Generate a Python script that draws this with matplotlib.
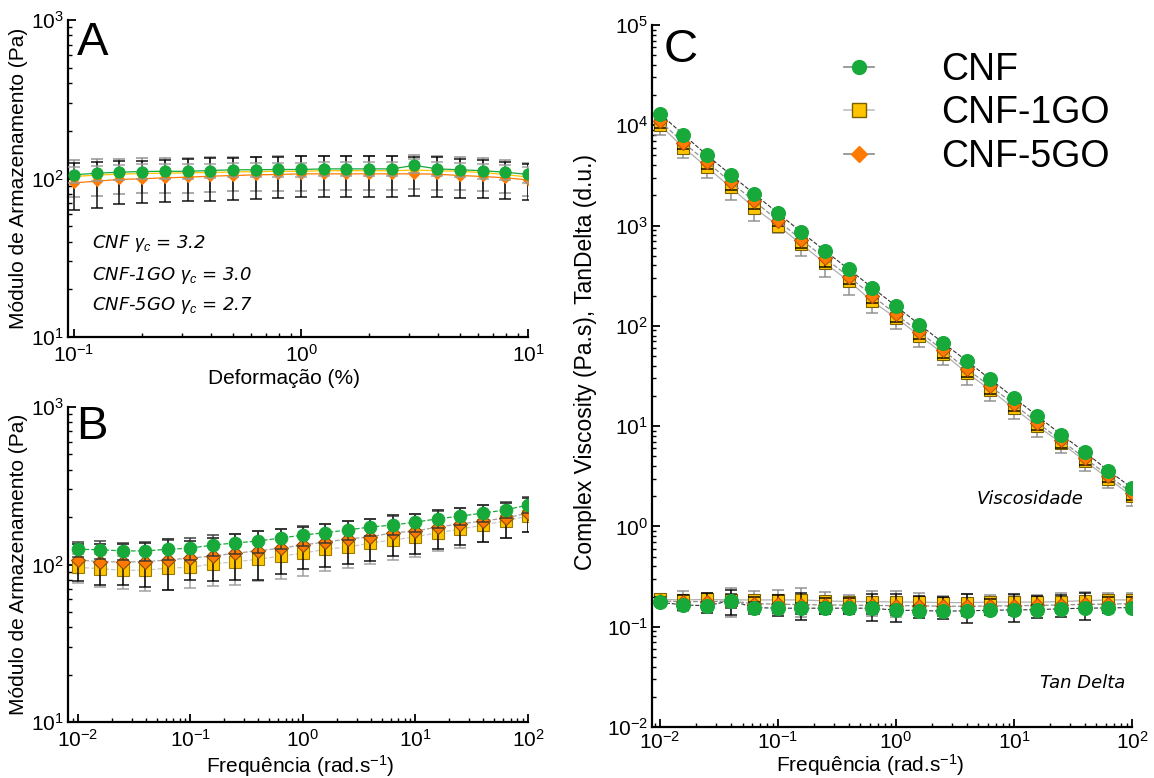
import numpy as np
import matplotlib
matplotlib.use('Agg')
import matplotlib.pyplot as plt
from matplotlib.lines import Line2D

plt.rcParams['font.family'] = ['Liberation Sans', 'DejaVu Sans']
plt.rcParams['mathtext.fontset'] = 'custom'
plt.rcParams['mathtext.rm'] = 'Liberation Sans'
plt.rcParams['mathtext.it'] = 'Liberation Sans:italic'

# colours
c_cnf = '#17a93a'
c_1go = '#ffc400'
c_5go = '#ff7a00'

# A - strain sweep
strain = [0.1, 0.126, 0.158, 0.2, 0.251, 0.316, 0.398, 0.501, 0.631, 0.794, 1.0,
          1.26, 1.58, 2.0, 2.51, 3.16, 3.98, 5.01, 6.31, 7.94, 10.0]
gA_cnf = [105.5, 108, 109.6, 110.7, 111, 111, 112.3, 113.5, 113.5, 114, 114,
          115, 115, 115, 115, 121, 115, 113.5, 112, 109.6, 106]
gA_1go = [103, 105, 106.5, 107.5, 108, 108.5, 109, 110, 110.5, 111, 111,
          112, 112, 112, 112, 113, 112, 111, 109, 106, 102]
gA_5go = [93.9, 96.2, 98.6, 99.6, 101, 101.9, 103.4, 104.4, 105.5, 106, 107,
          107, 107, 107, 107, 107, 106.5, 104.4, 103, 101, 98]
eA_cnf = [12, 12, 12, 12, 12, 12, 12, 12, 12, 12, 12, 12, 12, 12, 12, 12, 12, 12, 12, 12, 12]
eA_1go = [27, 27, 27, 27, 27, 27, 27, 27, 27, 27, 27, 27, 27, 27, 27, 27, 27, 26, 26, 25, 24]
eA_5go = [31, 31, 30, 30, 30, 30, 31, 31, 31, 31, 31, 31, 31, 31, 31, 30, 30, 29, 28, 27, 25]

# B - frequency sweep
freq = [0.01, 0.0158, 0.0251, 0.0398, 0.0631, 0.1, 0.158, 0.251, 0.398, 0.631, 1.0,
        1.58, 2.51, 3.98, 6.31, 10.0, 15.8, 25.1, 39.8, 63.1, 100.0]
gB_cnf = [125, 124, 122, 122, 125, 127, 133, 137, 141, 147, 154,
          159, 166, 173, 178, 186, 195, 203, 212, 222, 239]
gB_1go = [96, 94, 92, 92, 95, 96, 101, 104, 108, 113, 118,
          125, 129, 137, 143, 150, 159, 168, 178, 189, 203]
gB_5go = [107, 104, 104, 104, 107, 110, 113, 118, 122, 127, 133,
          139, 145, 150, 159, 163, 173, 181, 189, 197, 212]
eB_cnf = [14, 16, 15, 16, 18, 20, 20, 20, 22, 22, 22, 22, 22, 22, 24, 24, 24, 25, 26, 26, 28]
eB_1go = [20, 22, 22, 24, 26, 25, 28, 30, 30, 32, 34, 34, 34, 36, 36, 38, 38, 40, 40, 42, 42]
eB_5go = [28, 30, 30, 32, 38, 30, 34, 38, 42, 40, 40, 42, 44, 44, 46, 46, 48, 48, 50, 50, 52]

# C - complex viscosity and tan delta
eta_cnf = [13000, 8070, 5010, 3210, 2060, 1330, 858, 558, 366, 240, 157,
           103, 67.6, 44.7, 29.3, 19.2, 12.6, 8.25, 5.5, 3.6, 2.42]
eta_1go = [10000, 6000, 3800, 2400, 1500, 1000, 650, 420, 280, 175, 120,
           80, 53, 34, 23, 15, 10, 6.8, 4.5, 3.0, 2.0]
eta_5go = [11000, 6700, 4300, 2700, 1750, 1120, 720, 470, 310, 200, 130,
           87, 57, 37, 25, 16.5, 10.8, 7.2, 4.8, 3.2, 2.15]
eeta_cnf = [400, 250, 150, 100, 60, 40, 25, 16, 10, 7, 4, 3, 2, 1.3, 0.9, 0.6, 0.4, 0.25, 0.16, 0.1, 0.07]
eeta_1go = [2000, 1300, 800, 600, 400, 150, 150, 110, 75, 40, 28, 18, 12, 8, 5, 3.2, 2.2, 1.4, 0.9, 0.6, 0.4]
eeta_5go = [1500, 900, 600, 450, 300, 140, 120, 80, 50, 30, 20, 13, 9, 6, 4, 2.5, 1.7, 1.1, 0.7, 0.45, 0.3]

td_cnf = [0.175, 0.165, 0.162, 0.182, 0.155, 0.153, 0.153, 0.153, 0.153, 0.153, 0.146,
          0.145, 0.143, 0.144, 0.146, 0.147, 0.148, 0.151, 0.153, 0.154, 0.155]
td_1go = [0.187, 0.185, 0.187, 0.185, 0.185, 0.185, 0.185, 0.181, 0.178, 0.178, 0.176,
          0.176, 0.174, 0.174, 0.176, 0.176, 0.176, 0.178, 0.182, 0.185, 0.185]
td_5go = [0.18, 0.178, 0.178, 0.18, 0.17, 0.168, 0.166, 0.165, 0.164, 0.163, 0.162,
          0.162, 0.16, 0.16, 0.161, 0.162, 0.163, 0.165, 0.167, 0.168, 0.17]
etd_cnf = [0.01, 0.01, 0.015, 0.03, 0.02, 0.015, 0.02, 0.02, 0.015, 0.02, 0.015,
           0.015, 0.015, 0.015, 0.01, 0.015, 0.015, 0.01, 0.01, 0.01, 0.01]
etd_1go = [0.02, 0.04, 0.03, 0.06, 0.04, 0.05, 0.06, 0.04, 0.03, 0.05, 0.05,
           0.04, 0.03, 0.04, 0.03, 0.03, 0.03, 0.04, 0.04, 0.03, 0.03]
etd_5go = [0.02, 0.03, 0.04, 0.05, 0.03, 0.04, 0.05, 0.03, 0.03, 0.05, 0.05,
           0.04, 0.04, 0.05, 0.03, 0.05, 0.04, 0.04, 0.05, 0.03, 0.03]

W, H = 1154, 778
fig = plt.figure(figsize=(W / 100, H / 100), dpi=100)


def box(x0, y0, x1, y1):
    return [x0 / W, 1 - y1 / H, (x1 - x0) / W, (y1 - y0) / H]


axA = fig.add_axes(box(68, 20, 528, 337))
axB = fig.add_axes(box(68, 407, 528, 722))
axC = fig.add_axes(box(652, 25, 1132, 727))


def style(ax, xpad=3):
    ax.set_xscale('log')
    ax.set_yscale('log')
    for s in ['top', 'right']:
        ax.spines[s].set_visible(False)
    for s in ['left', 'bottom']:
        ax.spines[s].set_linewidth(1.6)
    ax.tick_params(which='major', direction='in', length=6, width=1.3, labelsize=15, pad=3)
    ax.tick_params(axis='x', which='major', pad=xpad)
    ax.tick_params(which='minor', direction='in', length=3, width=1.0)


def series(ax, x, y, e, marker, color, ecolor, ls, lc, ms, z, mec=None, lw=0.9):
    ax.errorbar(x, y, yerr=e, fmt='none', ecolor=ecolor, elinewidth=1.2,
                capsize=4, capthick=1.2, zorder=z, alpha=0.85)
    ax.plot(x, y, ls=ls, color=lc, lw=lw, zorder=z + 0.5)
    ax.plot(x, y, ls='none', marker=marker, ms=ms, mfc=color,
            mec=mec if mec else color, mew=0.8, zorder=z + 1)


# panel A
style(axA, xpad=5)
series(axA, strain, gA_1go, eA_1go, 's', c_1go, '#8a8a8a', '-', c_1go, 6, 2)
series(axA, strain, gA_5go, eA_5go, 'D', c_5go, 'black', '-', c_5go, 5.5, 3)
series(axA, strain, gA_cnf, eA_cnf, 'o', c_cnf, '#9a9a9a', '-', c_cnf, 8, 4)
axA.set_xticks([0.1, 1, 10])
axA.set_yticks([10, 100, 1000])
axA.set_xlim(0.094, 10)
axA.set_ylim(10, 1000)
axA.set_xlabel('Deformação (%)', fontsize=15)
axA.xaxis.set_label_coords(0.47, -0.1)
axA.set_ylabel('Módulo de Armazenamento (Pa)', fontsize=15, labelpad=2)
fig.text(77 / W, 1 - 21 / H, 'A', fontsize=34, va='top', ha='left')
for t, yy in [('CNF $\\gamma_c$ = 3.2', 243), ('CNF-1GO $\\gamma_c$ = 3.0', 275),
              ('CNF-5GO $\\gamma_c$ = 2.7', 306)]:
    fig.text(92 / W, 1 - yy / H, t, fontsize=13, style='italic', family='DejaVu Sans',
             va='center', ha='left')

# panel B
style(axB, xpad=5)
series(axB, freq, gB_1go, eB_1go, 's', c_1go, '#9a9a9a', '--', '#c8c8c8', 8, 2, mec='#9a7a00')
series(axB, freq, gB_5go, eB_5go, 'D', c_5go, 'black', '--', '#a0a0a0', 7, 3, mec='#8a4a00')
series(axB, freq, gB_cnf, eB_cnf, 'o', c_cnf, '#333333', '--', c_cnf, 9, 4)
axB.set_xticks([0.01, 0.1, 1, 10, 100])
axB.set_yticks([10, 100, 1000])
axB.set_xlim(0.00815, 100)
axB.set_ylim(10, 1000)
axB.set_xlabel('Frequência (rad.s$^{-1}$)', fontsize=15)
axB.xaxis.set_label_coords(0.505, -0.1)
axB.set_ylabel('Módulo de Armazenamento (Pa)', fontsize=15, labelpad=2)
fig.text(76 / W, 1 - 405 / H, 'B', fontsize=34, va='top', ha='left')

# panel C
style(axC, xpad=3)
for y, e in [(eta_1go, eeta_1go), (td_1go, etd_1go)]:
    series(axC, freq, y, e, 's', c_1go, '#8a8a8a', '-', '#b0b0b0', 9, 2, mec='#7a6000')
for y, e in [(eta_5go, eeta_5go), (td_5go, etd_5go)]:
    series(axC, freq, y, e, 'D', c_5go, 'black', '--', '#909090', 7.5, 3, mec='#c05000')
for y, e in [(eta_cnf, eeta_cnf), (td_cnf, etd_cnf)]:
    series(axC, freq, y, e, 'o', c_cnf, '#222222', '--', '#333333', 10, 4, lw=0.8)
axC.set_xticks([0.01, 0.1, 1, 10, 100])
axC.set_yticks([0.01, 0.1, 1, 10, 100, 1000, 1e4, 1e5])
axC.set_xlim(0.00855, 100)
axC.set_ylim(0.01, 1e5)
axC.set_xlabel('Frequência (rad.s$^{-1}$)', fontsize=15)
axC.xaxis.set_label_coords(0.455, -0.036)
axC.set_ylabel('Complex Viscosity (Pa.s), TanDelta (d.u.)', fontsize=16.5, labelpad=2)
axC.yaxis.set_label_coords(-0.115, 0.52)
fig.text(664 / W, 1 - 28 / H, 'C', fontsize=34, va='top', ha='left')
fig.text(1030 / W, 1 - 499 / H, 'Viscosidade', fontsize=13, style='italic',
         family='DejaVu Sans', ha='center', va='center')
fig.text(1083 / W, 1 - 683 / H, 'Tan Delta', fontsize=13, style='italic',
         family='DejaVu Sans', ha='center', va='center')

handles = [
    Line2D([], [], color='#8a8a8a', lw=1.2, marker='o', ms=10, mfc=c_cnf, mec=c_cnf),
    Line2D([], [], color='#c0c0c0', lw=1.2, marker='s', ms=10, mfc=c_1go, mec='#7a6000'),
    Line2D([], [], color='#8a8a8a', lw=1.2, marker='D', ms=8, mfc=c_5go, mec=c_5go),
]
fig.legend(handles, ['CNF', 'CNF-1GO', 'CNF-5GO'], loc='upper left',
           bbox_to_anchor=(810 / W, 1 - 18 / H), frameon=False, fontsize=27,
           handlelength=0.8, handletextpad=1.8, labelspacing=0.2)

fig.savefig('out.png', dpi=100)
